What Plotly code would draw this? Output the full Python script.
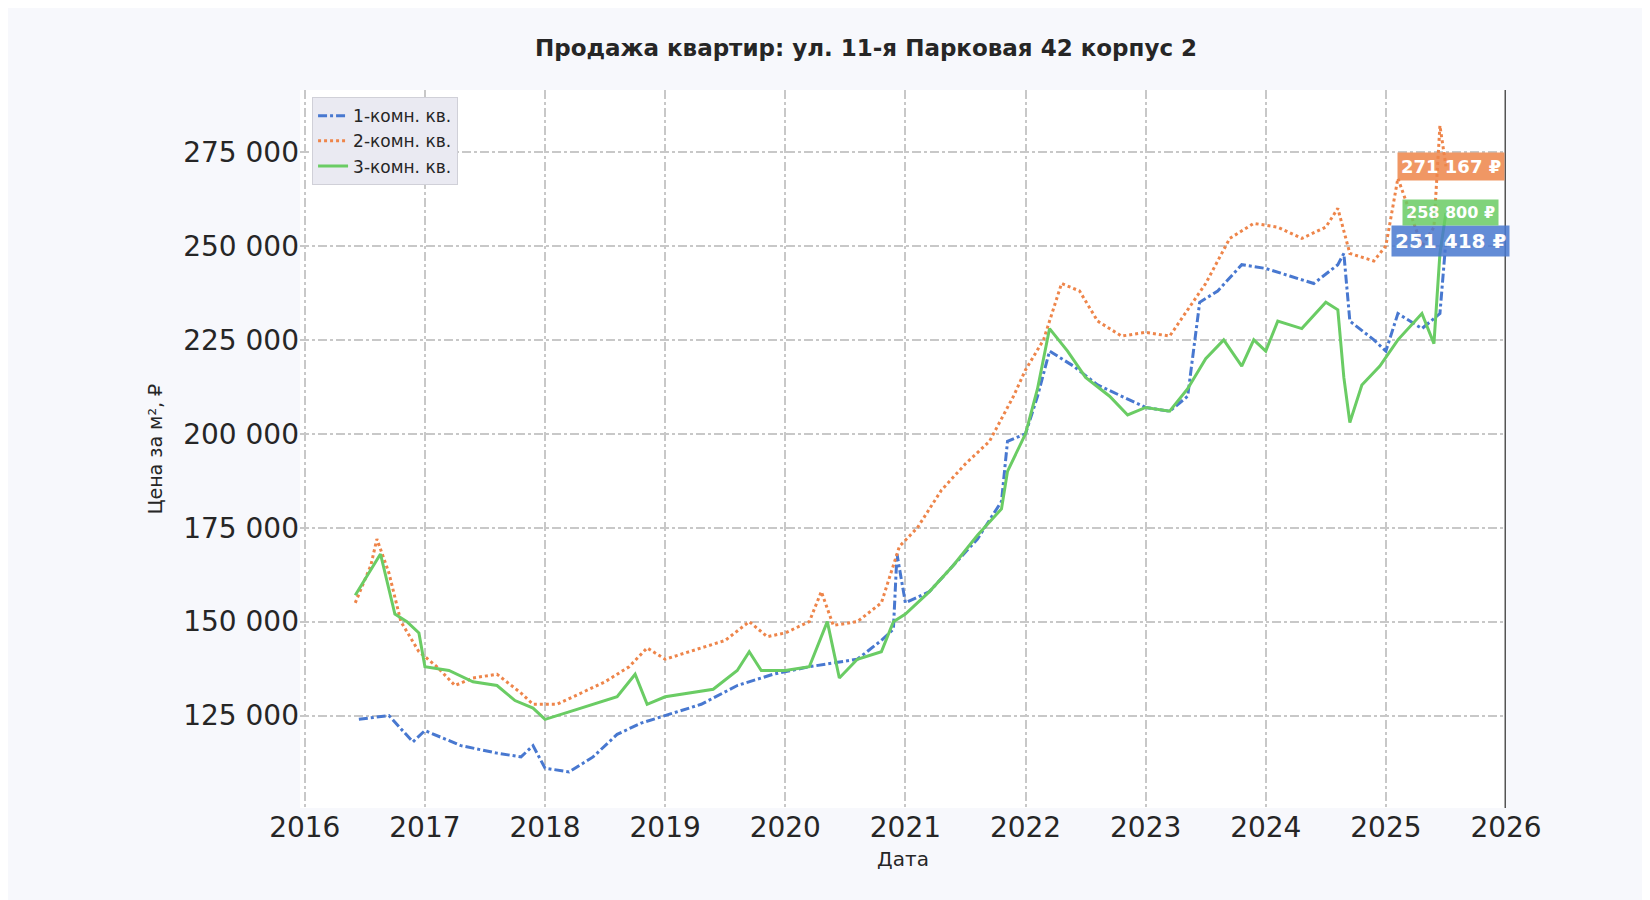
import plotly.graph_objects as go

# 1-комн.
x1 = [2016.45, 2016.7, 2016.9, 2017.0, 2017.3, 2017.6, 2017.8, 2017.9, 2018.0, 2018.2, 2018.4, 2018.6,
      2018.8, 2019.0, 2019.3, 2019.6, 2019.9, 2020.2, 2020.4, 2020.6, 2020.8, 2020.9, 2020.93, 2021.0,
      2021.2, 2021.4, 2021.6, 2021.8, 2021.85, 2022.0, 2022.1, 2022.2, 2022.4, 2022.6, 2022.8, 2023.0,
      2023.2, 2023.35, 2023.45, 2023.6, 2023.8, 2024.0, 2024.2, 2024.4, 2024.6, 2024.65, 2024.7, 2024.9,
      2025.0, 2025.1, 2025.3, 2025.45, 2025.5]
y1 = [124000, 125000, 118000, 121000, 117000, 115000, 114000, 117000, 111000, 110000, 114000, 120000,
      123000, 125000, 128000, 133000, 136000, 138000, 139000, 140000, 145000, 148000, 168000, 155000,
      158000, 165000, 172000, 182000, 198000, 200000, 210000, 222000, 218000, 213000, 210000, 207000,
      206000, 210000, 235000, 238000, 245000, 244000, 242000, 240000, 245000, 248000, 230000, 225000,
      222000, 232000, 228000, 232000, 251418]

# 2-комн.
x2 = [2016.42, 2016.55, 2016.6, 2016.7, 2016.8, 2016.95, 2017.1, 2017.25, 2017.4, 2017.6, 2017.8, 2017.9,
      2018.1, 2018.3, 2018.5, 2018.7, 2018.85, 2019.0, 2019.3, 2019.5, 2019.7, 2019.85, 2020.0, 2020.2,
      2020.3, 2020.4, 2020.6, 2020.8, 2020.95, 2021.1, 2021.3, 2021.5, 2021.7, 2021.9, 2022.0, 2022.15,
      2022.3, 2022.45, 2022.6, 2022.8, 2023.0, 2023.2, 2023.35, 2023.5, 2023.7, 2023.9, 2024.1, 2024.3,
      2024.5, 2024.6, 2024.7, 2024.9, 2025.0, 2025.1, 2025.3, 2025.4, 2025.45, 2025.5]
y2 = [155000, 165000, 172000, 163000, 150000, 142000, 138000, 133000, 135000, 136000, 131000, 128000,
      128000, 131000, 134000, 138000, 143000, 140000, 143000, 145000, 150000, 146000, 147000, 150000,
      158000, 149000, 150000, 155000, 170000, 175000, 185000, 192000, 198000, 210000, 217000, 225000,
      240000, 238000, 230000, 226000, 227000, 226000, 233000, 240000, 252000, 256000, 255000, 252000,
      255000, 260000, 248000, 246000, 250000, 268000, 250000, 255000, 282000, 271167]

# 3-комн.
x3 = [2016.42, 2016.55, 2016.63, 2016.75, 2016.85, 2016.95, 2017.0, 2017.2, 2017.4, 2017.6, 2017.75, 2017.9,
      2018.0, 2018.2, 2018.4, 2018.6, 2018.75, 2018.85, 2019.0, 2019.2, 2019.4, 2019.6, 2019.7, 2019.8,
      2020.0, 2020.2, 2020.35, 2020.45, 2020.6, 2020.8, 2020.9, 2021.0, 2021.2, 2021.4, 2021.6, 2021.8,
      2021.85, 2022.0, 2022.1, 2022.2, 2022.35, 2022.5, 2022.7, 2022.85, 2023.0, 2023.2, 2023.35, 2023.5,
      2023.65, 2023.8, 2023.9, 2024.0, 2024.1, 2024.3, 2024.5, 2024.6, 2024.65, 2024.7, 2024.8, 2024.95,
      2025.1, 2025.3, 2025.4, 2025.45, 2025.5]
y3 = [157000, 164000, 168000, 152000, 150000, 147000, 138000, 137000, 134000, 133000, 129000, 127000,
      124000, 126000, 128000, 130000, 136000, 128000, 130000, 131000, 132000, 137000, 142000, 137000,
      137000, 138000, 150000, 135000, 140000, 142000, 150000, 152000, 158000, 165000, 173000, 180000,
      190000, 200000, 212000, 228000, 222000, 215000, 210000, 205000, 207000, 206000, 212000, 220000,
      225000, 218000, 225000, 222000, 230000, 228000, 235000, 233000, 215000, 203000, 213000, 218000,
      225000, 232000, 224000, 248000, 258800]

names = ["1-комн. кв.", "2-комн. кв.", "3-комн. кв."]
colors = ["#4878d0", "#ee854a", "#6acc64"]
dashes = ["dashdot", "dot", "solid"]
last_labels = ["251 418 ₽", "271 167 ₽", "258 800 ₽"]

fig = go.Figure()
for xs, ys, n, c, d in zip([x1, x2, x3], [y1, y2, y3], names, colors, dashes):
    fig.add_trace(go.Scatter(x=xs, y=ys, name=n, mode="lines",
                             line=dict(color=c, width=3, dash=d)))

for ys, lab, c, fs in zip([y1, y2, y3], last_labels, colors, [20, 18, 16]):
    fig.add_annotation(x=2025.54, y=ys[-1], text=f"<b>{lab}</b>", showarrow=False,
                       font=dict(color="white", size=fs, family="DejaVu Sans"),
                       bgcolor=c, opacity=0.85, borderpad=3)

grid = dict(showgrid=True, gridcolor="#c8c8c8", gridwidth=1.5, griddash="dashdot",
            zeroline=False, tickfont=dict(size=28, color="#262626"), ticks="")
fig.update_layout(
    width=1650, height=900,
    paper_bgcolor="#f7f8fc", plot_bgcolor="white",
    font=dict(family="DejaVu Sans", color="#262626"),
    title=dict(text="<b>Продажа квартир: ул. 11-я Парковая 42 корпус 2</b>",
               x=0.52, xanchor="center", y=0.965, font=dict(size=23)),
    margin=dict(l=292, r=152, t=82, b=100),
    separators=". ",
    showlegend=True,
    legend=dict(x=0.01, y=0.99, xanchor="left", yanchor="top", bgcolor="#eaeaf2",
                bordercolor="#d0d0d8", borderwidth=1, font=dict(size=17)),
    xaxis=dict(range=[2015.96, 2026], tickvals=list(range(2016, 2027)),
               title=dict(text="Дата", font=dict(size=20), standoff=8), **grid),
    yaxis=dict(range=[100400, 291500], tickvals=[125000, 150000, 175000, 200000, 225000, 250000, 275000],
               tickformat=",d", title=dict(text="Цена за м², ₽", font=dict(size=19)), **grid),
)
fig.add_vline(x=2026, line=dict(color="#555555", width=3))
fig.write_html("out.html")
